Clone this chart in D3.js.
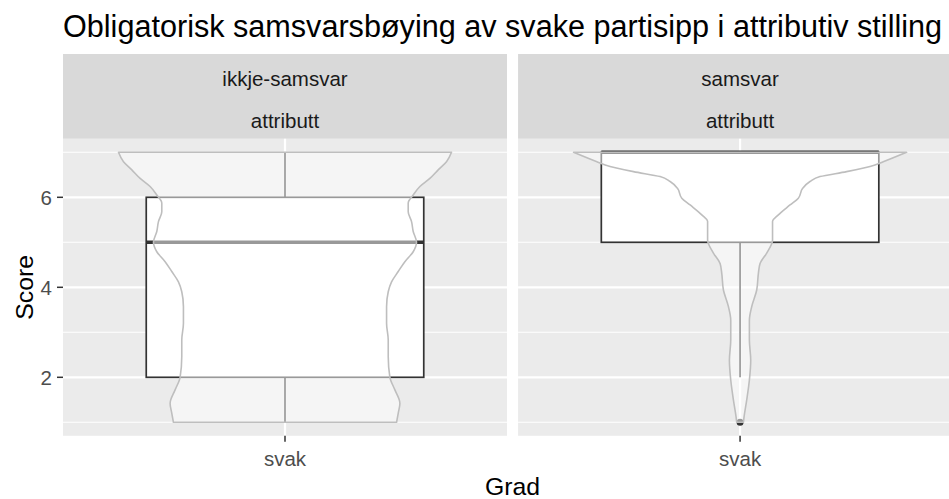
<!DOCTYPE html>
<html>
<head>
<meta charset="utf-8">
<script src="https://cdn.jsdelivr.net/npm/d3@7"></script>
<style>
  body { margin: 0; background: #fff; }
  svg { display: block; font-family: "Liberation Sans", Arial, sans-serif; }
</style>
</head>
<body>
<script>
"use strict";

// facets and category
var panels = ["ikkje-samsvar", "samsvar"];
var stripSub = "attributt";
var categories = ["svak"];
var yTicks = [2, 4, 6];
var yMinor = [1, 3, 5, 7];

// box statistics per panel
var whiskerLow = [1, 2];
var q1 = [2, 5];
var median = [5, 7];
var q3 = [6, 7];
var whiskerHigh = [7, 7];
var outliers = [[], [1]];

// violin outlines (score, relative density)
var violinScoreA = [1.0, 1.2, 1.42, 1.72, 2.0, 2.46, 2.83, 3.2, 3.57, 3.9, 4.12, 4.35, 4.57, 4.79, 5.0, 5.24, 5.46, 5.68, 5.87, 6.05, 6.24, 6.42, 6.61, 6.79, 7.0];
var violinDensA = [0.67, 0.68, 0.69, 0.66, 0.63, 0.62, 0.62, 0.61, 0.61, 0.62, 0.64, 0.68, 0.72, 0.77, 0.79, 0.77, 0.76, 0.74, 0.74, 0.77, 0.81, 0.87, 0.92, 0.97, 1.0];
var violinScoreB = [1.0, 1.12, 1.5, 1.94, 2.38, 2.83, 3.27, 3.57, 3.94, 4.31, 4.53, 4.76, 5.05, 5.46, 5.61, 5.83, 5.98, 6.2, 6.35, 6.46, 6.57, 6.72, 6.79, 7.0];
var violinDensB = [0.02, 0.024, 0.04, 0.056, 0.064, 0.056, 0.056, 0.07, 0.1, 0.11, 0.12, 0.16, 0.195, 0.195, 0.23, 0.3, 0.35, 0.376, 0.42, 0.48, 0.64, 0.81, 0.86, 1.0];
var violinScores = [violinScoreA, violinScoreB];
var violinDens = [violinDensA, violinDensB];

var W = 949, H = 499;
var panelLeft = 63, panelW = 444, panelGap = 11,
  stripTop = 54, panelTop = 138.8, panelBottom = 435.8;

var svg = d3.select("body").append("svg")
  .attr("width", W)
  .attr("height", H);

var y = d3.scaleLinear()
  .domain([0.7, 7.3])
  .range([panelBottom, panelTop]);

var panelX = d3.scaleBand()
  .domain(panels)
  .range([panelLeft, panelLeft + 2 * panelW + panelGap])
  .paddingInner(panelGap / (panelW + panelGap / 2));

// title
svg.append("text")
  .attr("x", panelLeft)
  .attr("y", 37)
  .attr("font-size", 30.6)
  .attr("fill", "#000")
  .text("Obligatorisk samsvarsbøying av svake partisipp i attributiv stilling");

panels.forEach(function(p, i) {
  var x0 = panelX(p);
  var g = svg.append("g");

  var x = d3.scaleLinear()
    .domain([0.4, 1.6])
    .range([x0, x0 + panelW]);
  var cx = x(1);
  var unit = x(1) - x(0);
  var halfW = d3.scaleLinear().domain([0, 1]).range([0, 0.45 * unit]);
  var boxHalf = 0.375 * unit;

  // strip
  g.append("rect")
    .attr("x", x0).attr("y", stripTop)
    .attr("width", panelW).attr("height", panelTop - stripTop)
    .attr("fill", "#d9d9d9");
  g.append("text")
    .attr("x", cx).attr("y", 86)
    .attr("text-anchor", "middle")
    .attr("font-size", 20.5)
    .attr("fill", "#1a1a1a")
    .text(p);
  g.append("text")
    .attr("x", cx).attr("y", 128.3)
    .attr("text-anchor", "middle")
    .attr("font-size", 20.5)
    .attr("fill", "#1a1a1a")
    .text(stripSub);

  // panel
  g.append("rect")
    .attr("x", x0).attr("y", panelTop)
    .attr("width", panelW).attr("height", panelBottom - panelTop)
    .attr("fill", "#ebebeb");

  g.selectAll(".minor").data(yMinor).enter().append("line")
    .attr("x1", x0).attr("x2", x0 + panelW)
    .attr("y1", d => y(d)).attr("y2", d => y(d))
    .attr("stroke", "#fff").attr("stroke-width", 1.1);
  g.selectAll(".major").data(yTicks).enter().append("line")
    .attr("x1", x0).attr("x2", x0 + panelW)
    .attr("y1", d => y(d)).attr("y2", d => y(d))
    .attr("stroke", "#fff").attr("stroke-width", 2.2);
  g.append("line")
    .attr("x1", cx).attr("x2", cx)
    .attr("y1", panelTop).attr("y2", panelBottom)
    .attr("stroke", "#fff").attr("stroke-width", 2.2);

  // boxplot
  g.append("line")
    .attr("x1", cx).attr("x2", cx)
    .attr("y1", y(whiskerLow[i])).attr("y2", y(q1[i]))
    .attr("stroke", "#333").attr("stroke-width", 1.7);
  g.append("line")
    .attr("x1", cx).attr("x2", cx)
    .attr("y1", y(q3[i])).attr("y2", y(whiskerHigh[i]))
    .attr("stroke", "#333").attr("stroke-width", 1.7);
  g.append("rect")
    .attr("x", cx - boxHalf).attr("y", y(q3[i]))
    .attr("width", 2 * boxHalf).attr("height", y(q1[i]) - y(q3[i]))
    .attr("fill", "#fff")
    .attr("stroke", "#333").attr("stroke-width", 1.7);
  g.append("line")
    .attr("x1", cx - boxHalf).attr("x2", cx + boxHalf)
    .attr("y1", y(median[i])).attr("y2", y(median[i]))
    .attr("stroke", "#333").attr("stroke-width", 3.4);
  g.selectAll(".out").data(outliers[i]).enter().append("circle")
    .attr("cx", cx).attr("cy", d => y(d))
    .attr("r", 3.5)
    .attr("fill", "#333");

  // violin on top, semi-transparent
  var pts = violinScores[i].map((s, k) => ({score: s, dens: violinDens[i][k]}));
  var area = d3.area()
    .curve(d3.curveMonotoneY)
    .y(d => y(d.score))
    .x0(d => cx - halfW(d.dens))
    .x1(d => cx + halfW(d.dens));
  g.append("path")
    .datum(pts)
    .attr("d", area)
    .attr("fill", "#fff").attr("fill-opacity", 0.5)
    .attr("stroke", "#bebebe").attr("stroke-width", 1.6)
    .attr("stroke-linejoin", "round");

  // x axis
  g.selectAll(".xtick").data(categories).enter().append("line")
    .attr("x1", cx).attr("x2", cx)
    .attr("y1", panelBottom).attr("y2", panelBottom + 6)
    .attr("stroke", "#333").attr("stroke-width", 1.5);
  g.selectAll(".xlab").data(categories).enter().append("text")
    .attr("x", cx).attr("y", 466)
    .attr("text-anchor", "middle")
    .attr("font-size", 20.5)
    .attr("fill", "#4d4d4d")
    .text(d => d);
});

// y axis
var yAxis = svg.append("g");
yAxis.selectAll("line").data(yTicks).enter().append("line")
  .attr("x1", panelLeft - 6).attr("x2", panelLeft)
  .attr("y1", d => y(d)).attr("y2", d => y(d))
  .attr("stroke", "#333").attr("stroke-width", 1.5);
yAxis.selectAll("text").data(yTicks).enter().append("text")
  .attr("x", panelLeft - 11)
  .attr("y", d => y(d))
  .attr("dy", "0.36em")
  .attr("text-anchor", "end")
  .attr("font-size", 20.5)
  .attr("fill", "#4d4d4d")
  .text(d => d);

// axis titles
svg.append("text")
  .attr("transform", `translate(33, ${(panelTop + panelBottom) / 2}) rotate(-90)`)
  .attr("text-anchor", "middle")
  .attr("font-size", 24.8)
  .attr("fill", "#000")
  .text("Score");

svg.append("text")
  .attr("x", panelLeft + panelW + panelGap / 2)
  .attr("y", 495)
  .attr("text-anchor", "middle")
  .attr("font-size", 24.8)
  .attr("fill", "#000")
  .text("Grad");
</script>
</body>
</html>
